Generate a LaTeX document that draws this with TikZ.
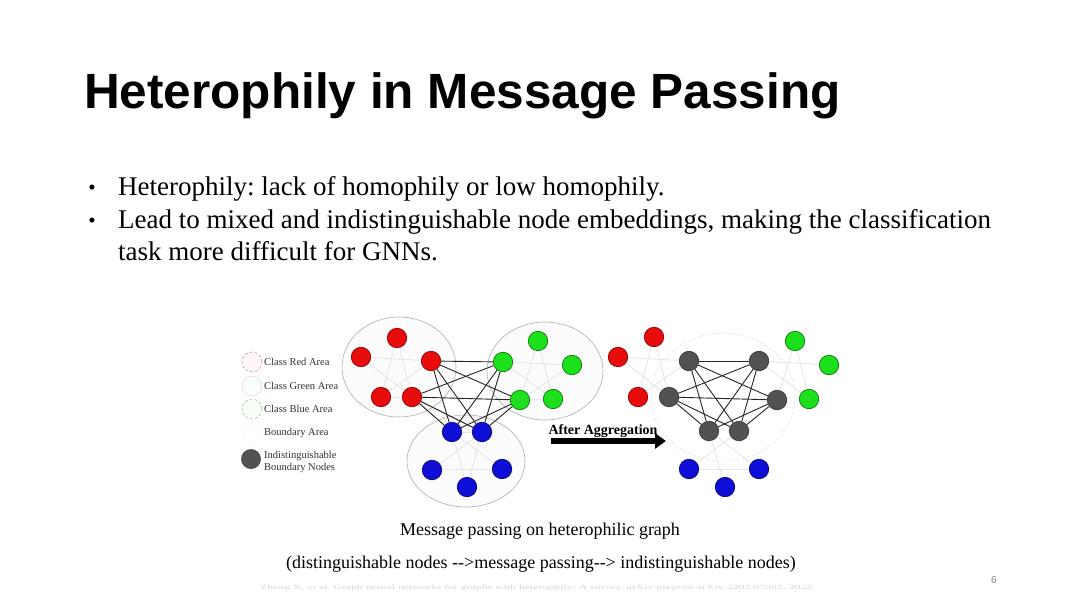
\documentclass[tikz,border=0pt]{standalone}
\usepackage{fontspec}
\setmainfont{Liberation Serif}
\setsansfont{Liberation Sans}
\usetikzlibrary{arrows.meta}
\frenchspacing

\definecolor{nodered}{RGB}{232,12,12}
\definecolor{nodegreen}{RGB}{28,224,28}
\definecolor{nodeblue}{RGB}{14,14,214}
\definecolor{nodegray}{RGB}{82,82,82}
\definecolor{arealine}{RGB}{175,175,175}
\definecolor{faint}{RGB}{228,228,228}

\begin{document}
\begin{tikzpicture}[
		x=1pt, y=-1pt,
		every node/.style={inner sep=0pt},
		vertex/.style={circle, draw, minimum size=19.5pt, line width=0.7pt},
		rnode/.style={vertex, fill=nodered, draw=nodered!60!black},
		gnode/.style={vertex, fill=nodegreen, draw=nodegreen!55!black},
		bnode/.style={vertex, fill=nodeblue, draw=nodeblue!55!black},
		knode/.style={vertex, fill=nodegray, draw=nodegray!70!black},
		area/.style={draw=arealine, line width=0.6pt, fill=black!1},
		weak/.style={draw=faint, line width=0.8pt},
		strong/.style={draw=black!85, line width=0.9pt},
		legend/.style={anchor=west, font=\fontsize{10.5}{12.5}\selectfont, text=black!80}
	]
  \useasboundingbox [fill=white] (0,0) rectangle (1080,608);

  % title and bullets
  \node (title) [anchor=base west, font=\sffamily\bfseries\fontsize{49.5}{58}\selectfont] at (84,108) {Heterophily in Message Passing};
  \node (dot_1) [anchor=base, font=\fontsize{21}{24}\selectfont] at (92,194) {•};
  \node (dot_2) [anchor=base, font=\fontsize{21}{24}\selectfont] at (92,227) {•};
  \node (item_1) [anchor=base west, font=\fontsize{27}{32}\selectfont] at (118,195) {Heterophily: lack of homophily or low homophily.};
  \node (item_2) [anchor=base west, font=\fontsize{27}{32}\selectfont] at (118,228) {Lead to mixed and indistinguishable node embeddings, making the classification};
  \node (item_3) [anchor=base west, font=\fontsize{27}{32}\selectfont] at (118,260) {task more difficult for GNNs.};

  % legend
  \draw [draw=red!25!gray!70, densely dashed, fill=red!3, line width=0.5pt] (252,362) circle [radius=10pt];
  \draw [draw=green!15!gray!30, fill=green!2, line width=0.5pt] (252,386) circle [radius=10pt];
  \draw [draw=green!20!gray!70, densely dashed, fill=green!3, line width=0.5pt] (252,409) circle [radius=10pt];
  \draw [draw=gray!12, densely dashed, line width=0.5pt] (252,433) circle [radius=10pt];
  \node (key_k) [circle, fill=nodegray, minimum size=20pt] at (251,459) {};
  \node (key_red) [legend] at (264,362) {Class Red Area};
  \node (key_green) [legend] at (264,386) {Class Green Area};
  \node (key_blue) [legend] at (264,409) {Class Blue Area};
  \node (key_bound) [legend] at (264,433) {Boundary Area};
  \node (key_text) [legend, align=left] at (264,462) {Indistinguishable\\Boundary Nodes};

  % class areas
  \draw [area] (399,367) ellipse [x radius=57pt, y radius=50pt];
  \draw [area] (545,371) ellipse [x radius=58pt, y radius=49pt];
  \draw [area] (466,461) ellipse [x radius=59pt, y radius=46pt];
  \draw [draw=faint, densely dashed, line width=0.6pt] (723,397) ellipse [x radius=72pt, y radius=64pt];

  % left graph
  \node (r_1) [rnode] at (397,338) {};
  \node (r_2) [rnode] at (361,357) {};
  \node (r_3) [rnode] at (431,361) {};
  \node (r_4) [rnode] at (381,397) {};
  \node (r_5) [rnode] at (412,397) {};
  \node (g_1) [gnode] at (538,341) {};
  \node (g_2) [gnode] at (503,362) {};
  \node (g_3) [gnode] at (572,365) {};
  \node (g_4) [gnode] at (520,400) {};
  \node (g_5) [gnode] at (553,399) {};
  \node (b_1) [bnode] at (452,432) {};
  \node (b_2) [bnode] at (482,432) {};
  \node (b_3) [bnode] at (432,470) {};
  \node (b_4) [bnode] at (502,469) {};
  \node (b_5) [bnode] at (467,487) {};
  \draw [weak] (r_2) edge (r_3) edge (r_5) (r_1) edge (r_4) edge (r_5) (r_4) edge (r_5) edge (r_3);
  \draw [weak] (g_2) edge (g_3) edge (g_5) (g_1) edge (g_4) edge (g_5) (g_4) edge (g_5) edge (g_3);
  \draw [weak] (b_3) edge (b_4) edge (b_2) (b_1) edge (b_5) edge (b_4) (b_5) edge (b_2) (b_1) edge (b_2);
  \draw [strong] (r_3) edge (g_2) edge (g_4) edge (b_1) edge (b_2);
  \draw [strong] (r_5) edge (g_2) edge (g_4) edge (b_1) edge (b_2);
  \draw [strong] (g_2) edge (b_1) edge (b_2) (g_4) edge (b_1) edge (b_2);

  % aggregation arrow
  \node (agg) [anchor=base, font=\bfseries\fontsize{14}{16}\selectfont] at (603,434) {After Aggregation};
  \coordinate (agg_from) at (551,441);
  \coordinate (agg_to) at (666,441);
  \draw [line width=6pt, -{Triangle[length=11pt, width=15pt]}] (agg_from) -- (agg_to);

  % right graph
  \node (rr_1) [rnode] at (654,337) {};
  \node (rr_2) [rnode] at (618,357) {};
  \node (rr_3) [rnode] at (638,397) {};
  \node (k_1) [knode] at (689,361) {};
  \node (k_2) [knode] at (669,397) {};
  \node (k_3) [knode] at (759,361) {};
  \node (k_4) [knode] at (777,400) {};
  \node (k_5) [knode] at (709,431) {};
  \node (k_6) [knode] at (739,431) {};
  \node (gg_1) [gnode] at (795,341) {};
  \node (gg_2) [gnode] at (829,365) {};
  \node (gg_3) [gnode] at (809,399) {};
  \node (bb_1) [bnode] at (689,469) {};
  \node (bb_2) [bnode] at (759,469) {};
  \node (bb_3) [bnode] at (725,487) {};
  \draw [weak] (rr_2) edge (k_1) edge (k_2) (rr_1) edge (k_2) edge (rr_3) (rr_3) edge (k_1);
  \draw [weak] (gg_1) edge (k_4) edge (gg_3) (gg_2) edge (k_3) (gg_3) edge (k_3);
  \draw [weak] (bb_1) edge (bb_2) edge (k_6) (bb_3) edge (k_5) (bb_2) edge (k_5);
  \draw [strong] (k_1) edge (k_3) edge (k_4) edge (k_5) edge (k_6);
  \draw [strong] (k_2) edge (k_3) edge (k_4) edge (k_5) edge (k_6);
  \draw [strong] (k_3) edge (k_5) edge (k_6) (k_4) edge (k_5) edge (k_6);

  % captions
  \node (cap_1) [anchor=base, font=\fontsize{18}{21}\selectfont] at (540,535) {Message passing on heterophilic graph};
  \node (cap_2) [anchor=base, font=\fontsize{18}{21}\selectfont] at (541,568) {(distinguishable nodes -{}->message passing-{}-> indistinguishable nodes)};
  \node (cite) [anchor=base west, text=black!16] at (260,589) {\resizebox{555pt}{4.5pt}{Zheng X, et al. Graph neural networks for graphs with heterophily: A survey. arXiv preprint arXiv:2202.07082, 2022.}};
  \node (page) [anchor=base, font=\sffamily\fontsize{10}{12}\selectfont, text=black!45] at (994,583) {6};
\end{tikzpicture}
\end{document}
